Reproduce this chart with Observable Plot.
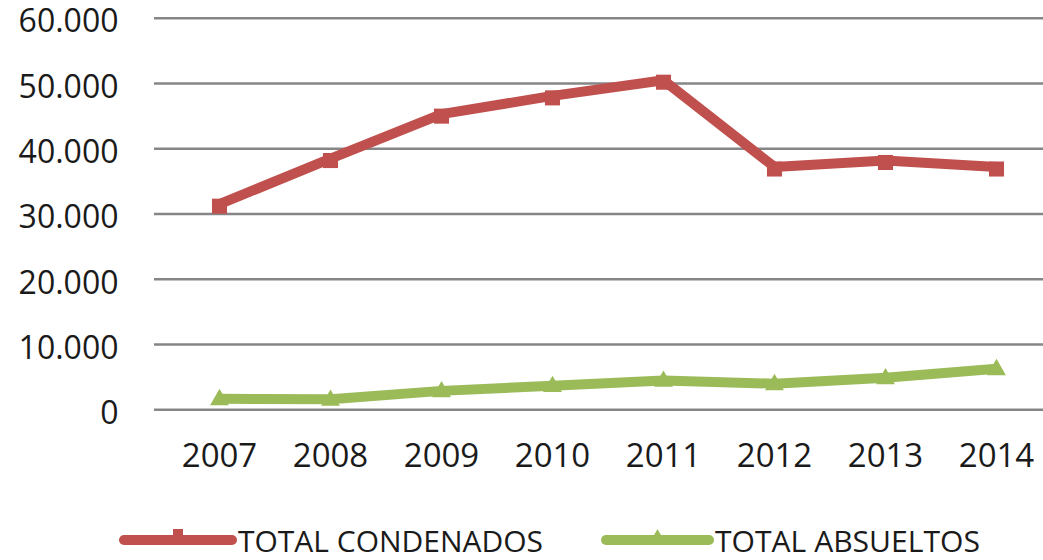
<!DOCTYPE html>
<html>
<head>
<meta charset="utf-8">
<script src="https://cdn.jsdelivr.net/npm/d3@7"></script>
<script src="https://cdn.jsdelivr.net/npm/@observablehq/plot@0.6"></script>
<style>
  html, body { margin: 0; padding: 0; background: #fff; overflow: hidden; }
  #chart svg { display: block; overflow: visible; }
  #legend { display: block; }
</style>
</head>
<body>
<div id="chart"></div>
<script>
const years = ["2007", "2008", "2009", "2010", "2011", "2012", "2013", "2014"];
const condenados = [31500, 38500, 45300, 48100, 50500, 37200, 38200, 37200];
const absueltos = [1700, 1600, 2900, 3700, 4500, 4000, 4900, 6300];
const yTicks = [0, 10000, 20000, 30000, 40000, 50000, 60000];
const seriesNames = ["TOTAL CONDENADOS", "TOTAL ABSUELTOS"];
const seriesColors = ["#C0504D", "#9BBB59"];

const rows = [];
years.forEach((y, i) => {
  rows.push({year: y, value: condenados[i], series: seriesNames[0]});
  rows.push({year: y, value: absueltos[i], series: seriesNames[1]});
});

const fmt = d => d === 0 ? "0" : d3.format(",")(d).replace(/,/g, ".");

const plot = Plot.plot({
  width: 1043,
  height: 500,
  marginTop: 17.7,
  marginBottom: 90.7,
  marginLeft: 154,
  marginRight: 0,
  style: {fontFamily: "'Open Sans', sans-serif", color: "#1a1a1a", background: "#fff", overflow: "visible"},
  x: {type: "point", domain: years, range: [215.5, 998.5], padding: 0},
  y: {domain: [0, 60000]},
  color: {domain: seriesNames, range: seriesColors},
  marks: [
    Plot.ruleY(yTicks, {stroke: "#868686", strokeWidth: 2.4}),
    Plot.axisY(yTicks, {tickSize: 0, tickPadding: 36, tickFormat: fmt, fontSize: 32, dy: 4, label: null, fill: "#1a1a1a"}),
    Plot.axisX({tickSize: 0, tickPadding: 34, fontSize: 33, label: null, fill: "#1a1a1a"}),
    Plot.line(rows, {x: "year", y: "value", z: "series", stroke: "series", strokeWidth: 10, strokeLinejoin: "miter", strokeLinecap: "butt"}),
    Plot.dot(rows.filter(d => d.series === seriesNames[0]), {x: "year", y: "value", symbol: "square", r: 8.5, fill: seriesColors[0], dy: 2}),
    Plot.dot(rows.filter(d => d.series === seriesNames[1]), {x: "year", y: "value", symbol: "triangle", r: 7, fill: seriesColors[1], dy: 1})
  ]
});
document.getElementById("chart").appendChild(plot);

// Legend below the chart
const legend = d3.select("#chart").append("svg")
  .attr("id", "legend")
  .attr("width", 1043)
  .attr("height", 60);

const legendItems = [
  {name: seriesNames[0], color: seriesColors[0], x1: 124, x2: 232, tx: 238, tw: 305, marker: "square"},
  {name: seriesNames[1], color: seriesColors[1], x1: 606, x2: 709, tx: 715, tw: 265, marker: "triangle"}
];
legendItems.forEach(it => {
  legend.append("line")
    .attr("x1", it.x1).attr("x2", it.x2)
    .attr("y1", 40).attr("y2", 40)
    .attr("stroke", it.color).attr("stroke-width", 10).attr("stroke-linecap", "round");
  if (it.marker === "square") {
    legend.append("rect")
      .attr("x", (it.x1 + it.x2) / 2 - 5).attr("y", 29).attr("width", 10).attr("height", 12)
      .attr("fill", it.color);
  } else {
    legend.append("path")
      .attr("d", `M${(it.x1 + it.x2) / 2},29 L${(it.x1 + it.x2) / 2 + 4},36 L${(it.x1 + it.x2) / 2 - 4},36 Z`)
      .attr("fill", it.color);
  }
  legend.append("text")
    .attr("x", it.tx).attr("y", 52)
    .attr("textLength", it.tw).attr("lengthAdjust", "spacingAndGlyphs")
    .attr("font-family", "'Open Sans', sans-serif")
    .attr("font-size", 29)
    .attr("fill", "#1a1a1a")
    .text(it.name);
});
</script>
</body>
</html>
